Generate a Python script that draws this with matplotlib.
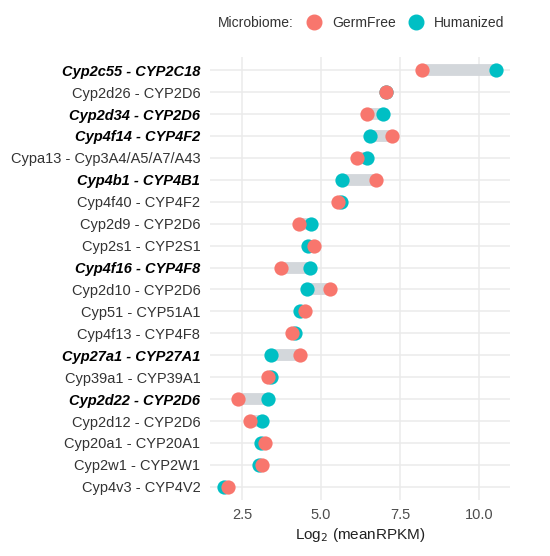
import numpy as np
import matplotlib
matplotlib.use("Agg")
import matplotlib.pyplot as plt
from matplotlib.lines import Line2D

plt.rcParams['font.family'] = ['Liberation Sans', 'DejaVu Sans']

# gene pairs, top to bottom
genes = [
    "Cyp2c55 - CYP2C18", "Cyp2d26 - CYP2D6", "Cyp2d34 - CYP2D6", "Cyp4f14 - CYP4F2",
    "Cypa13 - Cyp3A4/A5/A7/A43", "Cyp4b1 - CYP4B1", "Cyp4f40 - CYP4F2", "Cyp2d9 - CYP2D6",
    "Cyp2s1 - CYP2S1", "Cyp4f16 - CYP4F8", "Cyp2d10 - CYP2D6", "Cyp51 - CYP51A1",
    "Cyp4f13 - CYP4F8", "Cyp27a1 - CYP27A1", "Cyp39a1 - CYP39A1", "Cyp2d22 - CYP2D6",
    "Cyp2d12 - CYP2D6", "Cyp20a1 - CYP20A1", "Cyp2w1 - CYP2W1", "Cyp4v3 - CYP4V2",
]
highlight = ["Cyp2c55 - CYP2C18", "Cyp2d34 - CYP2D6", "Cyp4f14 - CYP4F2", "Cyp4b1 - CYP4B1",
             "Cyp4f16 - CYP4F8", "Cyp27a1 - CYP27A1", "Cyp2d22 - CYP2D6"]

germfree = [8.20, 7.07, 6.45, 7.25, 6.15, 6.73, 5.53, 4.30, 4.77, 3.73,
            5.30, 4.51, 4.08, 4.34, 3.33, 2.36, 2.77, 3.22, 3.12, 2.05]
humanized = [10.55, 7.05, 6.97, 6.55, 6.47, 5.68, 5.63, 4.69, 4.60, 4.64,
             4.56, 4.35, 4.19, 3.41, 3.43, 3.33, 3.15, 3.09, 3.03, 1.92]

gf_col = "#F8766D"
hu_col = "#00BFC4"

fig = plt.figure(figsize=(5.5, 5.56), dpi=100)
ax = fig.add_axes([210/550, 1-500/556, 300/550, 443/556])

y = np.arange(len(genes))
ax.hlines(y, germfree, humanized, color="#d3d7db", linewidth=8.5, zorder=2)
ax.scatter(humanized, y, s=105, color=hu_col, zorder=3, linewidths=0)
ax.scatter(germfree, y, s=105, color=gf_col, zorder=4, linewidths=0)

ax.set_xlim(1.49, 10.98)
ax.set_ylim(len(genes) - 0.4, -0.6)
ax.set_xticks([2.5, 5.0, 7.5, 10.0])
ax.set_xticklabels(["2.5", "5.0", "7.5", "10.0"])
ax.set_yticks(y)
ax.set_yticklabels(genes)
for lab in ax.get_yticklabels():
    if lab.get_text() in highlight:
        lab.set_fontweight("bold")
        lab.set_fontstyle("italic")
        lab.set_color("black")
    else:
        lab.set_color("#333333")
for lab in ax.get_xticklabels():
    lab.set_color("#4d4d4d")

ax.tick_params(axis="both", length=0, labelsize=10.5)
ax.tick_params(axis="y", pad=7)
ax.tick_params(axis="x", pad=6)
ax.grid(True, color="#ebebeb", linewidth=1.1, zorder=0)
ax.set_axisbelow(True)
for s in ax.spines.values():
    s.set_visible(False)

ax.set_xlabel("Log$_2$ (meanRPKM)", fontsize=11, color="#222222", labelpad=3)

# legend on top
fig.text(218/550, 1-23/556, "Microbiome:", fontsize=10, color="#333333", va="center", ha="left")
handles = [Line2D([], [], marker="o", linestyle="", markersize=10.5, color=gf_col),
           Line2D([], [], marker="o", linestyle="", markersize=10.5, color=hu_col)]
leg = fig.legend(handles, ["GermFree", "Humanized"], ncol=2, loc="center",
                 bbox_to_anchor=(405/550, 1-23/556), frameon=False, fontsize=10,
                 handletextpad=0.7, columnspacing=0.8, handlelength=1.2)
for t in leg.get_texts():
    t.set_color("#333333")

fig.savefig("out.png", dpi=100)
